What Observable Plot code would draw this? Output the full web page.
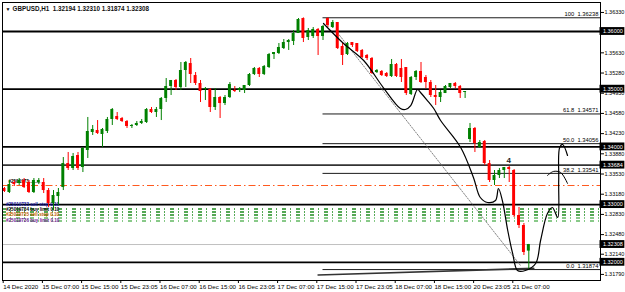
<!DOCTYPE html>
<html><head><meta charset="utf-8">
<script src="https://cdn.jsdelivr.net/npm/d3@7"></script>
<script src="https://cdn.jsdelivr.net/npm/@observablehq/plot@0.6"></script>
<style>body{margin:0;background:#fff;} svg{display:block}</style>
</head><body><div id="chart"></div>
<script>
const symbolTitle = "GBPUSD,H1  1.32194 1.32310 1.31874 1.32308";

const open = [
1.33279,1.33210,1.33383,1.33366,1.33418,1.33383,1.33210,1.33383,1.33383,1.33244,
1.33019,1.33140,1.33296,1.33712,1.33626,1.33851,1.33643,1.33938,1.34250,1.34284,
1.34215,1.34267,1.34475,1.34527,1.34492,1.34440,1.34354,1.34371,1.34406,1.34423,
1.34648,1.34596,1.34648,1.34839,1.35047,1.35151,1.35029,1.35324,1.35445,1.35237,
1.35099,1.34995,1.34995,1.34683,1.34856,1.34752,1.34856,1.34977,1.34977,1.34977,
1.35064,1.35255,1.35359,1.35255,1.35376,1.35601,1.35619,1.35705,1.35809,1.35827,
1.35965,1.36225,1.35896,1.35913,1.36035,1.35913,1.36225,1.36069,1.36156,1.35740,
1.35601,1.35809,1.35792,1.35671,1.35584,1.35532,1.35289,1.35307,1.35272,1.35220,
1.35428,1.35359,1.35376,1.34908,1.35203,1.35307,1.35203,1.35116,1.34891,1.34856,
1.34925,1.35029,1.35099,1.35047,1.34943,1.34128,1.34319,1.33990,1.34094,1.33712,
1.33418,1.33504,1.33591,1.33643,1.33591,1.32811,1.32638,1.32194];
const close = [
1.33227,1.33348,1.33348,1.33418,1.33296,1.33210,1.33418,1.33418,1.33244,1.33019,
1.33158,1.33210,1.33712,1.33626,1.33834,1.33626,1.33972,1.34267,1.34302,1.34232,
1.34302,1.34475,1.34648,1.34475,1.34440,1.34354,1.34371,1.34406,1.34440,1.34648,
1.34596,1.34648,1.34839,1.35047,1.35151,1.35029,1.35324,1.35463,1.35255,1.35099,
1.34960,1.35012,1.34683,1.34856,1.34752,1.34856,1.35081,1.34960,1.35012,1.35064,
1.35255,1.35359,1.35255,1.35393,1.35601,1.35636,1.35723,1.35809,1.35844,1.35965,
1.36208,1.35879,1.36017,1.36035,1.35913,1.36087,1.36104,1.36156,1.35705,1.35584,
1.35792,1.35757,1.35653,1.35549,1.35532,1.35272,1.35324,1.35237,1.35220,1.35428,
1.35220,1.35203,1.34925,1.35203,1.35307,1.35116,1.35116,1.34891,1.34856,1.34943,
1.35047,1.35099,1.35047,1.34925,1.34960,1.34319,1.34059,1.34076,1.33712,1.33418,
1.33504,1.33591,1.33643,1.33608,1.32811,1.32638,1.32170,1.32308];
const high = [
1.33296,1.33418,1.33418,1.33452,1.33452,1.33418,1.33452,1.33452,1.33452,1.33279,
1.33244,1.33279,1.33816,1.33903,1.33886,1.33903,1.33990,1.34510,1.34371,1.34457,
1.34319,1.34510,1.34665,1.34596,1.34510,1.34457,1.34388,1.34440,1.34475,1.34665,
1.34683,1.34683,1.34856,1.35185,1.35151,1.35168,1.35463,1.35480,1.35532,1.35289,
1.35151,1.35029,1.35012,1.35012,1.34873,1.34891,1.35116,1.35047,1.35029,1.35064,
1.35272,1.35376,1.35376,1.35411,1.35619,1.35636,1.35792,1.35861,1.35861,1.36017,
1.36225,1.36236,1.36052,1.36069,1.36052,1.36104,1.36238,1.36191,1.36156,1.35792,
1.35809,1.35809,1.35792,1.35688,1.35601,1.35549,1.35341,1.35324,1.35289,1.35515,
1.35445,1.35515,1.35376,1.35220,1.35324,1.35463,1.35237,1.35151,1.35064,1.34977,
1.35064,1.35099,1.35116,1.35064,1.34960,1.34406,1.34336,1.34111,1.34111,1.33764,
1.33591,1.33626,1.33643,1.33660,1.33608,1.32950,1.32672,1.32310];
const low = [
1.33210,1.33192,1.33314,1.33331,1.33279,1.33192,1.33192,1.33348,1.33192,1.32950,
1.32898,1.32985,1.33244,1.33591,1.33591,1.33591,1.33556,1.33799,1.34198,1.34215,
1.33990,1.34232,1.34371,1.34457,1.34423,1.34319,1.34319,1.34354,1.34388,1.34406,
1.34579,1.34510,1.34457,1.34769,1.34891,1.34977,1.34977,1.35029,1.35099,1.35064,
1.34769,1.34804,1.34596,1.34631,1.34492,1.34717,1.34839,1.34943,1.34943,1.34925,
1.35047,1.35237,1.35203,1.35237,1.35359,1.35515,1.35601,1.35688,1.35671,1.35757,
1.35965,1.35809,1.35844,1.35879,1.35584,1.35844,1.36069,1.36052,1.35688,1.35411,
1.35584,1.35723,1.35636,1.35532,1.35497,1.35255,1.35272,1.35220,1.35203,1.35203,
1.35203,1.35116,1.34891,1.34891,1.35151,1.35099,1.35012,1.34856,1.34717,1.34769,
1.34925,1.35012,1.35012,1.34839,1.34839,1.34076,1.33903,1.33972,1.33678,1.33383,
1.33331,1.33452,1.33452,1.33383,1.32776,1.32586,1.32118,1.31874];

const xTickIndex = [0,8,16,24,32,40,48,56,64,72,80,88,96,104];
const xTickLabels = ["14 Dec 2020","15 Dec 07:00","15 Dec 15:00","15 Dec 23:05","16 Dec 07:00","16 Dec 15:00","16 Dec 23:05","17 Dec 07:00","17 Dec 15:00","17 Dec 23:05","18 Dec 07:00","18 Dec 15:00","20 Dec 23:05","21 Dec 07:00"];
const yTicks = [1.36330,1.35630,1.35280,1.34930,1.34580,1.34230,1.33880,1.33530,1.33180,1.32830,1.32480,1.32140,1.31790];
const boxLevels = [1.36000,1.35000,1.34000,1.33684,1.33000,1.32308,1.32000];
const blackLevels = [1.36000,1.35000,1.34000,1.33684,1.33000,1.32000];
const fibLevels = [1.36238,1.34571,1.34056,1.33541,1.31874];
const fibNames = ["100","61.8","50.0","38.2","0.0"];
const bidPrice = 1.32308;
const pivotPrice = 1.33331;
const orderLevels = [1.32924,1.32872,1.32820,1.32768,1.32716];

const pathIdx = [65.1,69.2,73.3,77.3,80.8,81.8,82.9,84.3,84.9,86.3,87.6,89.0,93.1,95.7,97.1,98.6,100.2,100.8,101.6,102.7,103.7,104.7,106.3,108.4,109.4,110.8,111.8,112.9,113.1,113.3,113.9,114.9];
const pathPrice = [1.36139,1.35792,1.35497,1.35029,1.34665,1.34648,1.34717,1.34995,1.34943,1.34804,1.34665,1.34457,1.33990,1.33470,1.33123,1.33036,1.33071,1.33279,1.33071,1.32551,1.32153,1.31858,1.31858,1.31979,1.32378,1.32846,1.32950,1.32776,1.33418,1.33990,1.34042,1.33851];
const arcIdx = [110.8,112.0,113.5,114.9];
const arcPrice = [1.33504,1.33574,1.33556,1.33366];
const guideIdx = [67.6,105.3];
const guidePrice = [1.36017,1.31945];
const baseIdx = [64,108];
const basePrice = [1.31780,1.31895];
const waveIdx = [102.9];
const wavePrice = [1.33764];
const waveText = ["4"];

const clutterIdx = [0.3,0.3,0.3,0.3,0.8];
const clutterPrice = [1.33010,1.32915,1.32820,1.32725,1.33400];
const clutterText = ["#25019733 sell stop 0.10","#25019734 buy limit 0.10","#25019735 sell stop 0.10","#25019736 buy limit 0.10","#2501973 ........"];
const clutterColor = ["#1a1aa0","#000","#c06000","#6a1a8a","#000"];

const GREEN = "#008000", RED = "#ff0000";
const bars = open.map((o,i)=>({i, o, h: high[i], l: low[i], c: close[i], col: close[i] >= o ? GREEN : RED}));
const path = pathIdx.map((x,k)=>({x, y: pathPrice[k]}));
const arc = arcIdx.map((x,k)=>({x, y: arcPrice[k]}));
const guide = guideIdx.map((x,k)=>({x, y: guidePrice[k]}));
const base = baseIdx.map((x,k)=>({x, y: basePrice[k]}));
const fib = fibLevels.map((v,k)=>({v, name: fibNames[k]}));
const clutter = clutterText.map((t,k)=>({x: clutterIdx[k], y: clutterPrice[k], t, c: clutterColor[k]}));
const orders = orderLevels.map((v,k)=>({v, c: k < 3 ? "#1e8c1e" : "#62b862"}));

const X_END = 121.63;
const chart = Plot.plot({
  width: 625, height: 292,
  marginLeft: 2, marginRight: 25, marginTop: 2, marginBottom: 12,
  x: {type: "linear", domain: [-0.408, X_END], axis: null},
  y: {type: "linear", domain: [1.316846, 1.365026], axis: null},
  color: {type: "identity"},
  style: {fontFamily: "'Liberation Sans', Arial, sans-serif", fontSize: "6px", background: "#fff", color: "#000", overflow: "visible"},
  marks: [
    Plot.ruleY([bidPrice], {stroke: "#c0c0c0", strokeWidth: 1}),
    Plot.ruleY(orders, {y: "v", stroke: "c", strokeWidth: 1.5, strokeDasharray: "4,4,1,5"}),
    Plot.ruleY([pivotPrice], {stroke: "#ff5a1f", strokeWidth: 1, strokeDasharray: "7,3,1.5,3"}),
    Plot.ruleY(blackLevels, {stroke: d => d === 1.33684 ? "#333" : "#000", strokeWidth: 1.8}),
    Plot.ruleY(fib, {y: "v", x1: 65, x2: X_END, stroke: "#000", strokeWidth: 0.9}),
    Plot.text(fib, {x: 121.2, y: "v", text: d => d.name + "  " + d.v.toFixed(5), textAnchor: "end", dy: -3.5, fontSize: 5.8, fill: "#000"}),
    Plot.line(guide, {x: "x", y: "y", stroke: "#666", strokeWidth: 0.8, strokeDasharray: "1.5,1.5"}),
    Plot.line(base, {x: "x", y: "y", stroke: "#333", strokeWidth: 1.6}),
    Plot.text(clutter, {x: "x", y: "y", text: "t", fill: "c", textAnchor: "start", fontSize: 4.6, fontWeight: "bold", letterSpacing: "-0.3px"}),
    Plot.ruleX(bars, {x: "i", y1: "l", y2: "h", stroke: "col", strokeWidth: 1}),
    Plot.rect(bars, {x1: d => d.i - 0.3, x2: d => d.i + 0.3, y1: "o", y2: "c", fill: "col"}),
    Plot.line(path, {x: "x", y: "y", stroke: "#000", strokeWidth: 1.2, curve: "catmull-rom"}),
    Plot.line(arc, {x: "x", y: "y", stroke: "#000", strokeWidth: 1, curve: "catmull-rom"}),
    Plot.text(waveIdx, {x: d => d, y: (d,k) => wavePrice[k], text: (d,k) => waveText[k], fontSize: 8, fill: "#222", fontWeight: "bold"}),
    Plot.frame({stroke: "#000", strokeWidth: 1}),
    Plot.axisY(yTicks, {anchor: "right", tickSize: 3, tickPadding: 1, fontSize: 5.5, tickFormat: d => d.toFixed(5), label: null}),
    Plot.rect(boxLevels, {x1: X_END - 0.1, x2: 126.6, y1: d => d - 0.00068, y2: d => d + 0.00068, fill: "#000"}),
    Plot.text(boxLevels, {x: X_END + 0.5, y: d => d, text: d => d.toFixed(5), textAnchor: "start", fill: "#fff", fontSize: 5.5}),
    Plot.axisX(xTickIndex, {anchor: "bottom", tickSize: 3, tickPadding: 1, fontSize: 6.2, textAnchor: "start", dx: -1.3, tickFormat: (d) => xTickLabels[xTickIndex.indexOf(d)], label: null}),
    Plot.text(["▼"], {frameAnchor: "top-left", dx: 3, dy: 5, lineAnchor: "top", fontSize: 5, fill: "#000"}),
    Plot.text([symbolTitle], {frameAnchor: "top-left", dx: 10, dy: 4.5, lineAnchor: "top", textAnchor: "start", fontSize: 6.3, fontWeight: "bold", fill: "#111"})
  ]
});
document.getElementById("chart").appendChild(chart);
</script>
</body></html>
